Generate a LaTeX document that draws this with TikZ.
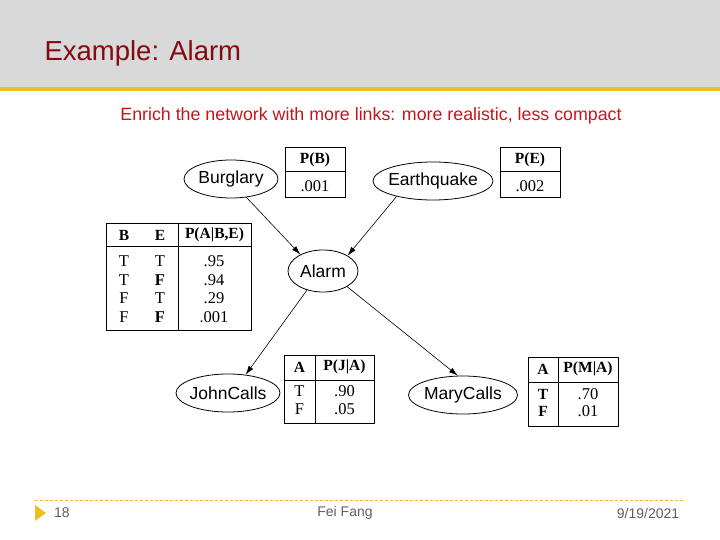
\documentclass[tikz,border=0pt]{standalone}
\usepackage{fontspec}
\setmainfont{Liberation Serif}
\setsansfont{Liberation Sans}
\usepackage{xcolor}
\usetikzlibrary{arrows.meta, positioning, shapes.geometric}
\definecolor{bandgray}{RGB}{217,217,217}
\definecolor{gold}{RGB}{240,190,30}
\definecolor{titlered}{RGB}{130,10,18}
\definecolor{subred}{RGB}{200,20,25}
\definecolor{footgray}{RGB}{95,95,95}

\begin{document}
\begin{tikzpicture}[x=1pt, y=-1pt,
      var/.style={draw, ellipse, inner xsep=-8pt, inner ysep=0pt, line width=0.8pt,
                  minimum height=38pt, font=\sffamily\fontsize{17.5}{17.5}\selectfont},
      cpt/.style={draw, line width=1pt, inner sep=0pt},
      cell/.style={inner sep=0pt, font=\fontsize{16.5}{16.5}\selectfont},
      head/.style={inner sep=0pt, font=\bfseries\fontsize{15.5}{15.5}\selectfont},
      link/.style={-{Latex[length=9pt, width=5.5pt]}, line width=0.6pt},
      foot/.style={text=footgray, font=\sffamily\fontsize{14}{14}\selectfont}]
    \useasboundingbox (0,0) rectangle (720,540);
    % slide header
    \fill[bandgray] (0,0) rectangle (720,87);
    \fill[gold] (0,87) rectangle (720,91);
    \node[anchor=west, text=titlered, font=\sffamily\fontsize{27.5}{27.5}\selectfont] (title) at (41,53) {Example: Alarm};
    \node[text=subred, font=\sffamily\fontsize{17.8}{17.8}\selectfont] (sub) at (371,116) {Enrich the network with more links: more realistic, less compact};
    % variables
    \node[var, minimum width=94pt] (burglary) at (231,179) {Burglary};
    \node[var, minimum width=120pt] (earthquake) at (433,181) {Earthquake};
    \node[var, minimum width=70pt, minimum height=42pt] (alarm) at (323,271) {Alarm};
    \node[var, minimum width=104pt] (johncalls) at (228,393) {JohnCalls};
    \node[var, minimum width=109pt] (marycalls) at (463,395) {MaryCalls};
    % P(B)
    \node[cpt, minimum width=60pt, minimum height=50pt] (pbtab) at (315,173) {};
    \draw[line width=1pt] (285,172) -- (345,172);
    \node[head] (pbh) at (315,160) {P(B)};
    \node[cell] (pbv) at (315,186) {.001};
    % P(E)
    \node[cpt, minimum width=60pt, minimum height=50pt] (petab) at (530,173) {};
    \draw[line width=1pt] (500,172) -- (560,172);
    \node[head] (peh) at (530,160) {P(E)};
    \node[cell] (pev) at (530,186) {.002};
    % P(A|B,E)
    \node[cpt, minimum width=145pt, minimum height=106pt] (patab) at (178.5,277) {};
    \draw[line width=1pt] (106,246) -- (251,246);
    \draw[line width=1pt] (178,224) -- (178,330);
    \node[head] (pah1) at (124,235) {B};
    \node[head] (pah2) at (160,235) {E};
    \node[head] (pah3) at (214.5,235) {P(A|B,E)};
    \foreach \b/\e/\p [count=\r] in {T/T/.95, T/\textbf{F}/.94, F/T/.29, F/\textbf{F}/.001}
      {
      \node[cell] (pab\r) at (124,243+18.5*\r) {\b};
      \node[cell] (pae\r) at (160,243+18.5*\r) {\e};
      \node[cell] (pap\r) at (214,243+18.5*\r) {\p};
      }
    % P(J|A)
    \node[cpt, minimum width=90pt, minimum height=68pt] (pjtab) at (329,389) {};
    \draw[line width=1pt] (284,380) -- (374,380);
    \draw[line width=1pt] (315,355) -- (315,423);
    \node[head] (pjh1) at (299.5,367) {A};
    \node[head] (pjh2) at (344.5,367) {P(J|A)};
    \node[cell] (pja1) at (299.5,391) {T};
    \node[cell] (pjv1) at (344.5,391) {.90};
    \node[cell] (pja2) at (299.5,409) {F};
    \node[cell] (pjv2) at (344.5,409) {.05};
    % P(M|A)
    \node[cpt, minimum width=90pt, minimum height=69pt] (pmtab) at (573,391.5) {};
    \draw[line width=1pt] (528,382) -- (618,382);
    \draw[line width=1pt] (558,357) -- (558,426);
    \node[head] (pmh1) at (543,369) {A};
    \node[head] (pmh2) at (588,369) {P(M|A)};
    \node[head] (pma1) at (543,394) {T};
    \node[cell] (pmv1) at (588,394) {.70};
    \node[head] (pma2) at (543,411) {F};
    \node[cell] (pmv2) at (588,411) {.01};
    % links
    \draw[link] (burglary.-50) -- (alarm.144);
    \draw[link] (earthquake.-157) -- (alarm.32);
    \draw[link] (alarm.-130) -- (johncalls.46);
    \draw[link] (alarm.-33) -- (marycalls.105);
    % footer
    \draw[gold, line width=0.7pt, dash pattern=on 3pt off 2pt] (35,500) -- (685,500);
    \fill[gold] (35,505) -- (46,513) -- (35,521) -- cycle;
    \node[foot] (page) at (62,513) {18};
    \node[foot] (author) at (345,513) {Fei Fang};
    \node[foot] (date) at (648,513) {9/19/2021};
  \end{tikzpicture}
\end{document}
